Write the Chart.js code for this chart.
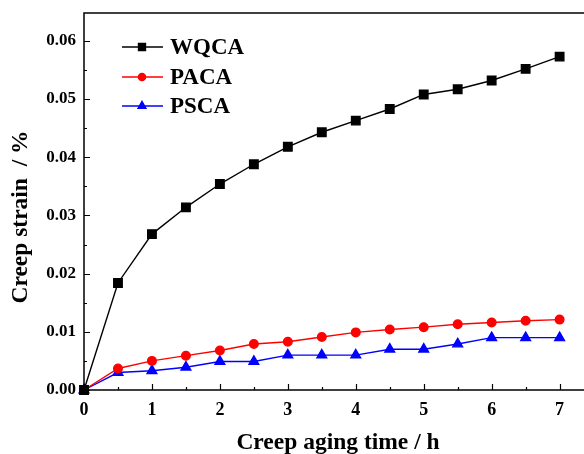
<!DOCTYPE html>
<html>
<head>
<meta charset="utf-8">
<script src="https://cdn.jsdelivr.net/npm/chart.js@4.4.1/dist/chart.umd.min.js"></script>
<style>
  html, body { margin: 0; padding: 0; background: #fff; }
  #wrap { width: 584px; height: 454px; }
</style>
</head>
<body>
<div id="wrap"><canvas id="creepChart" width="584" height="454"></canvas></div>
<script>
var hours = [0, 0.5, 1, 1.5, 2, 2.5, 3, 3.5, 4, 4.5, 5, 5.5, 6, 6.5, 7];
var wqca = [0, 0.0184, 0.0268, 0.0314, 0.0354, 0.0388, 0.0418, 0.0443, 0.0463, 0.0483, 0.0508, 0.0517, 0.0532, 0.0552, 0.0573];
var paca = [0, 0.0037, 0.0050, 0.0059, 0.0068, 0.0079, 0.0083, 0.0091, 0.0099, 0.0104, 0.0108, 0.0113, 0.0116, 0.0119, 0.0121];
var psca = [0, 0.0030, 0.0033, 0.0039, 0.0049, 0.0049, 0.0060, 0.0060, 0.0060, 0.0070, 0.0070, 0.0079, 0.0090, 0.0090, 0.0090];
var xTicks = [0, 1, 2, 3, 4, 5, 6, 7];
var yTicks = [0, 0.01, 0.02, 0.03, 0.04, 0.05, 0.06];

var serif = '"Liberation Serif", "DejaVu Serif", serif';

function pts(ys) {
    return hours.map(function(h, i) { return { x: h, y: ys[i] }; });
}

// frame, inward ticks, axis titles and the in-plot legend
var framePlugin = {
    id: 'frame',
    afterDraw: function(chart) {
        var ctx = chart.ctx, a = chart.chartArea;
        var xs = chart.scales.x, ys = chart.scales.y;
        var w = chart.width;
        ctx.save();
        ctx.strokeStyle = '#000';
        ctx.lineWidth = 1.5;
        ctx.beginPath();
        ctx.moveTo(w, a.top);
        ctx.lineTo(a.left, a.top);
        ctx.lineTo(a.left, a.bottom);
        ctx.lineTo(w, a.bottom);
        ctx.stroke();
        ctx.lineWidth = 1.2;
        ctx.beginPath();
        for (var v = 0; v <= 7.01; v += 0.5) {
            var px = Math.round(xs.getPixelForValue(v)) + 0.5;
            var len = (Math.abs(v - Math.round(v)) < 1e-6) ? 6 : 3;
            ctx.moveTo(px, a.bottom); ctx.lineTo(px, a.bottom - len);
        }
        for (var k = 0; k <= 12; k++) {
            var py = Math.round(ys.getPixelForValue(k * 0.005)) + 0.5;
            var l2 = (k % 2 === 0) ? 6 : 3;
            ctx.moveTo(a.left, py); ctx.lineTo(a.left + l2, py);
        }
        ctx.stroke();

        ctx.fillStyle = '#000';
        ctx.font = 'bold 23.5px ' + serif;
        ctx.textAlign = 'center';
        ctx.textBaseline = 'middle';
        ctx.fillText('Creep aging time / h', 338, 443);
        ctx.save();
        ctx.translate(21, 217);
        ctx.rotate(-Math.PI / 2);
        ctx.fillText('Creep strain  / %', 0, 0);
        ctx.restore();

        // legend (smaller symbols than in the plot)
        var rows = [47, 77, 106];
        var legendR = { rect: 5, circle: 3.6, triangle: 4.6 };
        chart.data.datasets.forEach(function(ds, i) {
            var y = rows[i];
            ctx.strokeStyle = ds.borderColor;
            ctx.lineWidth = 1.3;
            ctx.beginPath();
            ctx.moveTo(122, y); ctx.lineTo(163, y);
            ctx.stroke();
            Chart.helpers.drawPoint(ctx, {
                pointStyle: ds.pointStyle, radius: legendR[ds.pointStyle], rotation: 0, borderWidth: 1
            }, 142, y);
            ctx.fillStyle = ds.pointBackgroundColor;
            ctx.fill();
            ctx.fillStyle = '#000';
            ctx.font = 'bold 23px ' + serif;
            ctx.textAlign = 'left';
            ctx.fillText(ds.label, 170, y + 1);
        });
        ctx.restore();
    }
};

new Chart(document.getElementById('creepChart'), {
    type: 'line',
    data: {
        datasets: [
            { label: 'WQCA', data: pts(wqca), borderColor: '#000', backgroundColor: '#000', pointBackgroundColor: '#000', pointBorderColor: '#000', pointStyle: 'rect', pointRadius: 6, borderWidth: 1.4, tension: 0 },
            { label: 'PACA', data: pts(paca), borderColor: '#ff0000', backgroundColor: '#ff0000', pointBackgroundColor: '#ff0000', pointBorderColor: '#ff0000', pointStyle: 'circle', pointRadius: 4.3, borderWidth: 1.4, tension: 0 },
            { label: 'PSCA', data: pts(psca), borderColor: '#0000ff', backgroundColor: '#0000ff', pointBackgroundColor: '#0000ff', pointBorderColor: '#0000ff', pointStyle: 'triangle', pointRadius: 5.6, borderWidth: 1.4, tension: 0 }
        ]
    },
    options: {
        responsive: false,
        animation: false,
        clip: false,
        layout: { padding: { top: 13, right: 0, left: 0, bottom: 0 } },
        plugins: { legend: { display: false }, tooltip: { enabled: false } },
        scales: {
            x: {
                type: 'linear', min: 0, max: 7.25,
                afterFit: function(s) { s.height = 64; s.paddingLeft = 0; s.paddingRight = 0; },
                afterBuildTicks: function(s) { s.ticks = xTicks.map(function(v) { return { value: v }; }); },
                grid: { display: false, drawTicks: false },
                border: { display: false },
                ticks: { color: '#000', padding: 10, font: { family: serif, size: 18, weight: 'bold' } }
            },
            y: {
                type: 'linear', min: 0, max: 0.0648,
                afterFit: function(s) { s.width = 84; s.paddingTop = 0; s.paddingBottom = 0; },
                afterBuildTicks: function(s) { s.ticks = yTicks.map(function(v) { return { value: v }; }); },
                grid: { display: false, drawTicks: false },
                border: { display: false },
                ticks: { color: '#000', padding: 8, font: { family: serif, size: 17, weight: 'bold' },
                    callback: function(v) { return v.toFixed(2); } }
            }
        }
    },
    plugins: [framePlugin]
});
</script>
</body>
</html>
